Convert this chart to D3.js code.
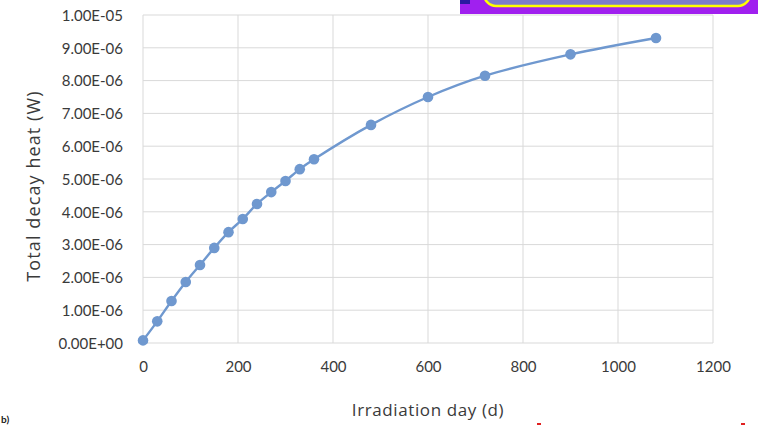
<!DOCTYPE html>
<html>
<head>
<meta charset="utf-8">
<script src="https://cdn.jsdelivr.net/npm/d3@7"></script>
<style>
  html, body { margin: 0; padding: 0; background: #ffffff; }
  svg { display: block; }
</style>
</head>
<body>
<svg id="chart" width="758" height="425"></svg>
<script>
// Irradiation time (days) and total decay heat (W)
const days = [0, 30, 60, 90, 120, 150, 180, 210, 240, 270, 300, 330, 360, 480, 600, 720, 900, 1080];
const decayHeat = [0.08e-6, 0.66e-6, 1.28e-6, 1.86e-6, 2.38e-6, 2.90e-6, 3.38e-6, 3.78e-6, 4.24e-6,
                   4.60e-6, 4.94e-6, 5.30e-6, 5.60e-6, 6.65e-6, 7.50e-6, 8.15e-6, 8.80e-6, 9.30e-6];
const xTicks = [0, 200, 400, 600, 800, 1000, 1200];
const yTicks = [0, 1e-6, 2e-6, 3e-6, 4e-6, 5e-6, 6e-6, 7e-6, 8e-6, 9e-6, 1e-5];
const xTitle = "Irradiation day (d)";
const yTitle = "Total decay heat (W)";

const svg = d3.select("#chart");
const plot = { left: 143, right: 713, top: 15, bottom: 343 };

const x = d3.scaleLinear().domain([0, 1200]).range([plot.left, plot.right]);
const y = d3.scaleLinear().domain([0, 1e-5]).range([plot.bottom, plot.top]);

const tickFont = "Lato, 'Open Sans', sans-serif";
const titleFont = "'Open Sans', sans-serif";
const textColor = "#3a3a3a";
const gridColor = "#d9d9d9";
const seriesColor = "#6f98cf";

// Gridlines
svg.append("g")
  .selectAll("line")
  .data(yTicks)
  .join("line")
  .attr("x1", plot.left).attr("x2", plot.right)
  .attr("y1", d => y(d)).attr("y2", d => y(d))
  .attr("stroke", gridColor).attr("stroke-width", 1);

svg.append("g")
  .selectAll("line")
  .data(xTicks)
  .join("line")
  .attr("x1", d => x(d)).attr("x2", d => x(d))
  .attr("y1", plot.top).attr("y2", plot.bottom)
  .attr("stroke", gridColor).attr("stroke-width", 1);

// Tick labels in spreadsheet scientific style, e.g. 1.00E-05
const fmtExp = d => {
  const s = d3.format(".2e")(d).toUpperCase();
  return s.replace(/E([+-])(\d)$/, "E$10$2");
};

const xAxis = svg.append("g")
  .attr("transform", `translate(0,${plot.bottom})`)
  .call(d3.axisBottom(x).tickValues(xTicks).tickFormat(d3.format("d")).tickSize(0).tickPadding(18));
xAxis.select(".domain").remove();
xAxis.selectAll("text")
  .attr("fill", textColor)
  .style("font-family", tickFont)
  .style("font-size", "15px");

const yAxis = svg.append("g")
  .attr("transform", `translate(${plot.left},0)`)
  .call(d3.axisLeft(y).tickValues(yTicks).tickFormat(fmtExp).tickSize(0).tickPadding(20));
yAxis.select(".domain").remove();
yAxis.selectAll("text")
  .attr("fill", textColor)
  .attr("dy", "0.35em")
  .style("font-family", tickFont)
  .style("font-size", "15px");

// Axis titles
svg.append("text")
  .attr("x", (plot.left + plot.right) / 2)
  .attr("y", 416)
  .attr("text-anchor", "middle")
  .attr("fill", textColor)
  .style("font-family", titleFont)
  .style("font-size", "17px")
  .style("letter-spacing", "0.6px")
  .text(xTitle);

svg.append("text")
  .attr("transform", `translate(40,${(plot.top + plot.bottom) / 2 + 7}) rotate(-90)`)
  .attr("text-anchor", "middle")
  .attr("fill", textColor)
  .style("font-family", titleFont)
  .style("font-size", "18px")
  .style("letter-spacing", "1.1px")
  .text(yTitle);

// Series line and markers
const pts = days.map((d, i) => [d, decayHeat[i]]);
svg.append("path")
  .datum(pts)
  .attr("fill", "none")
  .attr("stroke", seriesColor)
  .attr("stroke-width", 2.4)
  .attr("d", d3.line().x(d => x(d[0])).y(d => y(d[1])).curve(d3.curveCatmullRom.alpha(0.5)));

svg.append("g")
  .selectAll("circle")
  .data(pts)
  .join("circle")
  .attr("cx", d => x(d[0]))
  .attr("cy", d => y(d[1]))
  .attr("r", 5.3)
  .attr("fill", seriesColor);

// Banner strip at the top right
const banner = svg.append("g");
banner.append("rect")
  .attr("x", 460).attr("y", -2).attr("width", 300).attr("height", 16)
  .attr("fill", "#a020ef");
banner.append("rect")
  .attr("x", 460).attr("y", -2).attr("width", 10).attr("height", 6)
  .attr("fill", "#2a1aa0");
banner.append("rect")
  .attr("x", 484).attr("y", -30).attr("width", 266).attr("height", 36)
  .attr("rx", 12).attr("ry", 12)
  .attr("fill", "#7c7ccc")
  .attr("stroke", "#ffff00").attr("stroke-width", 2.5);

// Panel letter at the bottom-left corner
svg.append("text")
  .attr("x", 1).attr("y", 423)
  .attr("fill", "#202020")
  .style("font-family", tickFont)
  .style("font-size", "10px")
  .style("font-weight", "bold")
  .text("b)");

// Small red marks at the bottom edge
svg.append("g")
  .selectAll("rect")
  .data([537, 741])
  .join("rect")
  .attr("x", d => d).attr("y", 423).attr("width", 4).attr("height", 2)
  .attr("fill", "#e02020");
</script>
</body>
</html>
